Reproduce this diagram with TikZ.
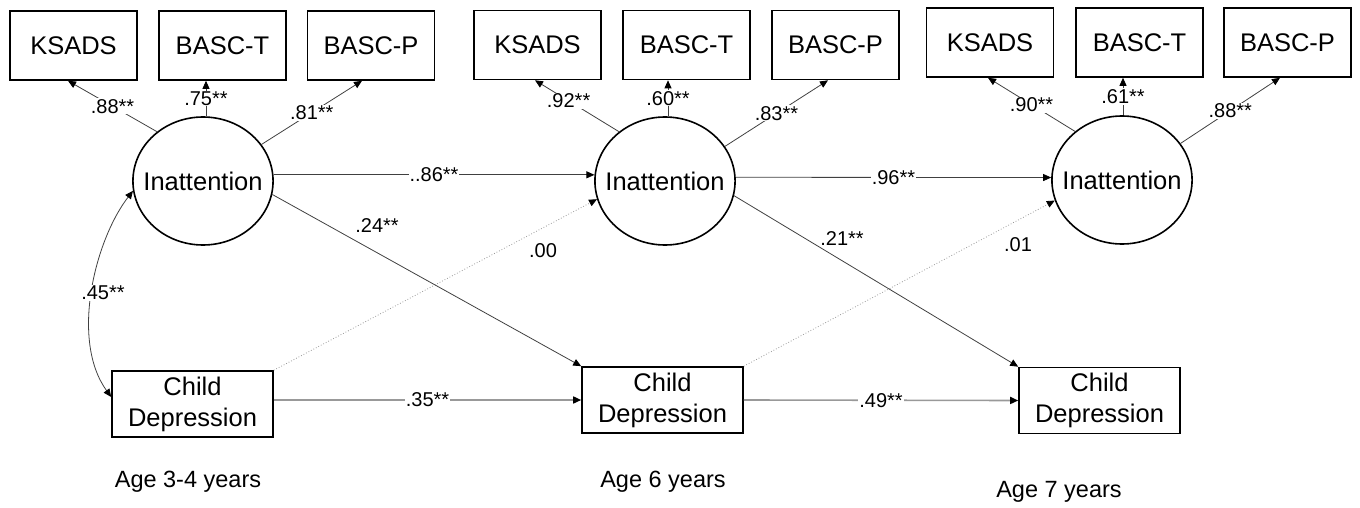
\documentclass[tikz,border=0pt]{standalone}
\usepackage{fontspec}
\setmainfont{Liberation Sans}
\usetikzlibrary{arrows.meta,shapes.geometric}
\begin{document}
\begin{tikzpicture}[x=1pt,y=-1pt,
  ind/.style={draw,line width=1.6pt,minimum width=127pt,minimum height=69pt,inner sep=0pt,font=\fontsize{25.5}{30}\selectfont},
  lat/.style={draw,ellipse,line width=1.6pt,minimum width=140pt,minimum height=128pt,inner xsep=-10pt,inner ysep=0pt,font=\fontsize{25.5}{30}\selectfont},
  dep/.style={draw,line width=1.6pt,minimum width=161pt,minimum height=66pt,inner sep=0pt,align=center,font=\fontsize{25.5}{31}\selectfont},
  agelbl/.style={font=\fontsize{23.5}{28}\selectfont},
  lbl/.style={fill=white,inner sep=1pt,font=\fontsize{20}{22}\selectfont},
  freelbl/.style={inner sep=1pt,font=\fontsize{20}{22}\selectfont},
  tipend/.style={-{Triangle[length=8pt,width=7pt,color=black]}},
  conn/.style={tipend,draw=black!75,line width=0.8pt},
  regpath/.style={tipend,draw=black!40,line width=1.6pt},
  dotpath/.style={tipend,draw=black!40,line width=0.8pt,dotted},
  covpath/.style={{Triangle[length=8pt,width=7pt,color=black]}-{Triangle[length=8pt,width=7pt,color=black]},draw=black!75,line width=0.8pt}
]
\useasboundingbox (0,0) rectangle (1360,508);

% indicator boxes
\node[ind] (K1) at (73.5,45.5) {KSADS};
\node[ind] (T1) at (222.5,45.5) {BASC-T};
\node[ind] (P1) at (371,45.5) {BASC-P};
\node[ind] (K2) at (537.5,45) {KSADS};
\node[ind] (T2) at (686.5,45) {BASC-T};
\node[ind] (P2) at (835.5,45) {BASC-P};
\node[ind] (K3) at (990,42.5) {KSADS};
\node[ind] (T3) at (1139.5,42.5) {BASC-T};
\node[ind] (P3) at (1287.5,42.5) {BASC-P};

% latent variables
\node[lat] (I1) at (203,181) {Inattention};
\node[lat] (I2) at (665,181) {Inattention};
\node[lat] (I3) at (1122,180) {Inattention};

% depression boxes
\node[dep] (D1) at (192.5,404) {Child\\Depression};
\node[dep] (D2) at (662.5,400) {Child\\Depression};
\node[dep] (D3) at (1099.5,400.5) {Child\\Depression};

% age labels
\node[agelbl] (A1) at (188,482) {Age 3-4 years};
\node[agelbl] (A2) at (663,482) {Age 6 years};
\node[agelbl] (A3) at (1059,492) {Age 7 years};

% loadings
\draw[conn] (I1.133) -- ([xshift=-5.5pt]K1.south) node[lbl,pos=0.5] {.88**};
\draw[conn] (I1.north -| 206,0) -- (206,0 |- T1.south) node[lbl,pos=0.5] {.75**};
\draw[conn] (I1.32) -- ([xshift=-9pt]P1.south) node[lbl,pos=0.5] {.81**};
\draw[conn] (I2.133) -- ([xshift=-2.5pt]K2.south) node[lbl,pos=0.6] {.92**};
\draw[conn] (I2.north -| 668,0) -- (668,0 |- T2.south) node[lbl,pos=0.5] {.60**};
\draw[conn] (I2.30) -- ([xshift=-7.5pt]P2.south) node[lbl,pos=0.5] {.83**};
\draw[conn] (I3.134) -- ([xshift=-2pt]K3.south) node[lbl,pos=0.5] {.90**};
\draw[conn] (I3.north -| 1123,0) -- (1123,0 |- T3.south) node[lbl,pos=0.5] {.61**};
\draw[conn] (I3.32) -- ([xshift=-7.5pt]P3.south) node[lbl,pos=0.5] {.88**};

% stability paths
\draw[conn] (I1.5) -- (I2.175) node[lbl,pos=0.5] {..86**};
\draw[conn] (I2.3) -- (I3.178) node[lbl,pos=0.5] {.96**};
\draw[regpath] (D1.east |- D2.west) -- (D2.west) node[lbl,pos=0.5] {.35**};
\draw[regpath] (D2.east) -- (D3.west) node[lbl,pos=0.5] {.49**};

% cross-lagged paths
\draw[dotpath] (D1.north east) -- (I2.195);
\draw[dotpath] (D2.north east) -- (I3.197);
\draw[conn] (I1.-11) -- (D2.north west);
\draw[conn] (I2.-12) -- (D3.north west);
\node[freelbl] (L24) at (377,226) {.24**};
\node[freelbl] (L00) at (543,251) {.00};
\node[freelbl] (L21) at (842,239) {.21**};
\node[freelbl] (L01) at (1018,245) {.01};

% covariance
\draw[covpath] (I1.188) .. controls (95,240) and (70,340) .. ([yshift=7pt]D1.west);
\node[lbl] (L45) at (103,293) {.45**};
\end{tikzpicture}
\end{document}
